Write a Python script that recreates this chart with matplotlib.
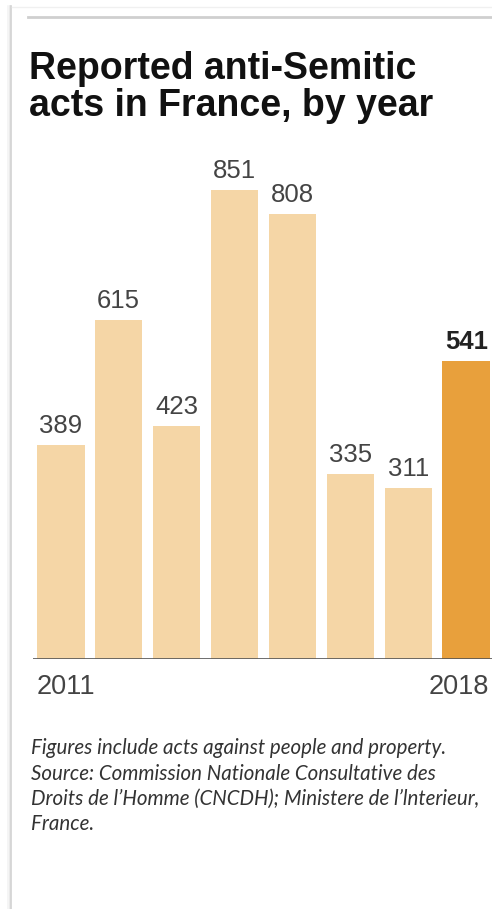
import matplotlib.pyplot as plt
from matplotlib.lines import Line2D

years = ["2011", "2012", "2013", "2014", "2015", "2016", "2017", "2018"]
acts = [389, 615, 423, 851, 808, 335, 311, 541]
highlight = "2018"

W, H = 492, 909


def fx(px):
    return px / W


def fy(py):
    return 1 - py / H


plt.rcParams["font.family"] = ["Liberation Sans", "DejaVu Sans"]

fig = plt.figure(figsize=(W / 100, H / 100), dpi=100)
fig.patch.set_facecolor("white")

# page frame: left edge shadow and top rule
for i, c in enumerate(["#f4f4f4", "#e6e6e6", "#d2d2d2"]):
    fig.add_artist(Line2D([fx(8 + i * 1.5)] * 2, [fy(6), 0], color=c, lw=1.2))
fig.add_artist(Line2D([fx(12), 1], [fy(6.5), fy(6.5)], color="#f0f0f0", lw=1))
fig.add_artist(Line2D([fx(28), 1], [fy(17), fy(17)], color="#cfcfcf", lw=2))

# title
fig.text(fx(29), fy(79), "Reported anti-Semitic", fontsize=27, fontweight="bold",
         color="#111111", va="baseline", ha="left")
fig.text(fx(29), fy(116), "acts in France, by year", fontsize=27, fontweight="bold",
         color="#111111", va="baseline", ha="left")

# bars
ax_l, ax_r, ax_t, ax_b = 33, 492, 150, 659
ax = fig.add_axes([fx(ax_l), fy(ax_b), fx(ax_r - ax_l), (ax_b - ax_t) / H])
width = 0.82
pitch = (490 - 37) / (len(acts) - 1 + width)
x0 = -width / 2 - (37 - ax_l) / pitch
x1 = x0 + (ax_r - ax_l) / pitch
ax.set_xlim(x0, x1)
ymax = 851 * (ax_b - ax_t) / (ax_b - 190)
ax.set_ylim(0, ymax)

xs = list(range(len(acts)))
colors = ["#e8a03c" if y == highlight else "#f5d6a6" for y in years]
ax.bar(xs, acts, width=width, color=colors, edgecolor="none", zorder=2)
ax.axhline(0, color="#555555", lw=1.2, zorder=3)

for x, v, y in zip(xs, acts, years):
    ax.annotate(str(v), (x, v), xytext=(0, 5), textcoords="offset points",
                ha="center", va="bottom", fontsize=18.5,
                color="#222222" if y == highlight else "#444444",
                fontweight="bold" if y == highlight else "normal")

ax.axis("off")

fig.text(fx(37), fy(694), years[0], fontsize=19.5, color="#444444", ha="left", va="baseline")
fig.text(fx(489), fy(694), years[-1], fontsize=19.5, color="#444444", ha="right", va="baseline")

# caption
caption = [
    "Figures include acts against people and property.",
    "Source: Commission Nationale Consultative des",
    "Droits de l\u2019Homme (CNCDH); Ministere de l\u2019lnterieur,",
    "France.",
]
for i, line in enumerate(caption):
    fig.text(fx(31), fy(754 + i * 25.5), line, fontsize=14.8, fontstyle="italic",
             family=["Lato", "DejaVu Sans"], color="#333333", ha="left", va="baseline")

fig.savefig("out.png", dpi=100)
